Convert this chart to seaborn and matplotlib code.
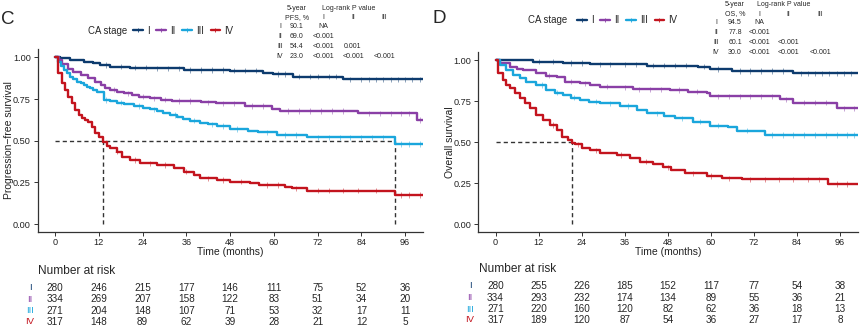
import numpy as np
import pandas as pd
import matplotlib
matplotlib.use("Agg")
import matplotlib.pyplot as plt
import seaborn as sns
from matplotlib.lines import Line2D
from matplotlib import transforms

# ---------------- data ----------------
stages = ["I", "II", "III", "IV"]
colors = ["#0D3B6E", "#8A3FA6", "#1AA6DC", "#C3141E"]
risk_times = [0, 12, 24, 36, 48, 60, 72, 84, 96]

# Panel C: progression-free survival (step curves: time, survival)
pfs_t_I = [0, 1.4, 4.1, 7.8, 10.5, 12.3, 15, 20.6, 26, 35.2, 48, 57, 59.8, 65.3, 79, 101]
pfs_s_I = [1, 0.994, 0.984, 0.974, 0.964, 0.954, 0.944, 0.938, 0.934, 0.924, 0.92, 0.908, 0.90, 0.884, 0.868, 0.868]
pfs_t_II = [0, 1, 2, 3.5, 5, 7, 9, 11, 12.5, 13.7, 15, 17, 19, 21, 23, 26, 29, 32, 40, 44, 52, 59.4, 61.7, 83, 99.2, 101]
pfs_s_II = [1, 0.985, 0.96, 0.93, 0.91, 0.894, 0.874, 0.855, 0.834, 0.815, 0.805, 0.794, 0.785, 0.774, 0.765, 0.754,
            0.745, 0.738, 0.73, 0.724, 0.708, 0.688, 0.678, 0.664, 0.624, 0.624]
pfs_t_III = [0, 0.7, 1.5, 2.3, 3.2, 4.1, 5, 5.9, 7, 7.8, 8.7, 9.6, 10.5, 11.4, 13.3, 15, 16.9, 19, 21.5, 24, 26, 28,
             29.7, 31.5, 33.4, 35, 37, 39.8, 42, 44.3, 48, 53, 55.7, 60.8, 69, 93.3, 101]
pfs_s_III = [1, 0.97, 0.95, 0.924, 0.905, 0.884, 0.868, 0.854, 0.844, 0.834, 0.824, 0.814, 0.804, 0.794, 0.744, 0.736,
             0.728, 0.718, 0.708, 0.698, 0.688, 0.676, 0.664, 0.654, 0.644, 0.632, 0.62, 0.608, 0.598, 0.588, 0.57,
             0.56, 0.55, 0.534, 0.52, 0.48, 0.48]
pfs_t_IV = [0, 0.9, 1.8, 2.7, 3.6, 4.6, 5.5, 6.4, 7.3, 8.2, 9.1, 10, 11, 12.1, 13.1, 14.2, 15.1, 16.9, 18.3, 20.6,
            23.3, 27.9, 32.5, 35.2, 38, 39.8, 44.3, 48, 53.4, 56, 63, 64.9, 69, 93.3, 101]
pfs_s_IV = [1, 0.904, 0.844, 0.804, 0.764, 0.724, 0.684, 0.654, 0.634, 0.624, 0.614, 0.584, 0.544, 0.52, 0.49, 0.47,
            0.454, 0.434, 0.404, 0.384, 0.364, 0.354, 0.334, 0.314, 0.294, 0.274, 0.264, 0.254, 0.244, 0.234,
            0.224, 0.214, 0.20, 0.174, 0.174]
pfs_cens_I = [14, 18, 22, 25, 28, 31, 34, 37, 40, 43, 46, 49, 52, 55, 61, 63, 67, 70, 72, 75, 77, 81, 84, 86, 88, 90,
              92, 94, 96, 98, 100]
pfs_cens_II = [16, 20, 24, 27, 30, 34, 37, 42, 46, 49, 54, 57, 64, 67, 70, 73, 76, 79, 86, 89, 92, 95, 97, 100]
pfs_cens_III = [14, 18, 23, 27, 33, 38, 43, 46, 50, 58, 63, 66, 72, 75, 78, 81, 84, 87, 90, 95, 97, 100]
pfs_cens_IV = [17, 22, 26, 30, 36, 42, 46, 51, 58, 61, 66, 72, 75, 79, 83, 88, 95, 97, 100]
pfs_risk_I = [280, 246, 215, 177, 146, 111, 75, 52, 36]
pfs_risk_II = [334, 269, 207, 158, 122, 83, 51, 34, 20]
pfs_risk_III = [271, 204, 148, 107, 71, 53, 32, 17, 11]
pfs_risk_IV = [317, 148, 89, 62, 39, 28, 21, 12, 5]
pfs_5yr = ["90.1", "69.0", "54.4", "23.0"]
pfs_p = [["NA", "", ""], ["<0.001", "", ""], ["<0.001", "0.001", ""], ["<0.001", "<0.001", "<0.001"]]

# Panel D: overall survival
os_t_I = [0, 10.5, 18.8, 26.3, 42.1, 56.5, 59.8, 65.8, 83, 101]
os_s_I = [1, 0.99, 0.982, 0.975, 0.965, 0.958, 0.945, 0.933, 0.919, 0.919]
os_t_II = [0, 1.2, 4, 5.9, 7.7, 11.4, 14.2, 17, 19.3, 23.5, 26.3, 29.1, 34.7, 38.4, 48.6, 53.7, 58.9, 59.8, 79.3, 83,
           95.1, 101]
os_s_II = [1, 0.98, 0.96, 0.945, 0.939, 0.919, 0.904, 0.894, 0.868, 0.858, 0.848, 0.837, 0.833, 0.821, 0.817, 0.807,
           0.797, 0.78, 0.76, 0.74, 0.705, 0.705]
os_t_III = [0, 1.2, 3, 4.9, 6.8, 8.6, 11.4, 14.2, 16.5, 18.8, 21, 23.5, 26, 29.1, 34.7, 39.3, 42.1, 47, 50, 55.1, 59.8,
            64.9, 67.2, 75.1, 101]
os_s_III = [1, 0.97, 0.939, 0.909, 0.888, 0.868, 0.848, 0.817, 0.8, 0.787, 0.77, 0.756, 0.745, 0.736, 0.72, 0.695,
            0.675, 0.659, 0.644, 0.624, 0.6, 0.59, 0.569, 0.543, 0.543]
os_t_IV = [0, 0.7, 2.1, 3, 4, 5.4, 6.8, 8.2, 9.6, 11.4, 13.3, 15.1, 17, 18.4, 20.3, 21.2, 22.2, 24, 26.3, 29.1, 33.8,
           37.5, 40.2, 43.9, 46.7, 49, 52.7, 58.8, 63, 68.6, 92.7, 101]
os_s_IV = [1, 0.919, 0.878, 0.848, 0.827, 0.797, 0.766, 0.736, 0.705, 0.665, 0.634, 0.604, 0.573, 0.532, 0.51, 0.495,
           0.486, 0.461, 0.451, 0.431, 0.421, 0.4, 0.38, 0.366, 0.346, 0.329, 0.309, 0.293, 0.279, 0.273, 0.244, 0.244]
os_cens_I = [12, 16, 21, 24, 29, 32, 36, 39, 44, 47, 50, 53, 58, 62, 68, 71, 74, 77, 80, 85, 87, 89, 91, 93, 95, 97,
             99]
os_cens_II = [15, 21, 25, 31, 36, 40, 43, 46, 51, 56, 62, 65, 68, 71, 74, 77, 81, 86, 89, 92, 97, 100]
os_cens_III = [13, 17, 22, 28, 32, 37, 45, 52, 57, 62, 70, 77, 80, 83, 86, 89, 92, 95, 98, 100]
os_cens_IV = [16, 23, 28, 35, 42, 48, 55, 60, 65, 71, 75, 79, 83, 87, 90, 95, 98]
os_risk_I = [280, 255, 226, 185, 152, 117, 77, 54, 38]
os_risk_II = [334, 293, 232, 174, 134, 89, 55, 36, 21]
os_risk_III = [271, 220, 160, 120, 82, 62, 36, 18, 13]
os_risk_IV = [317, 189, 120, 87, 54, 36, 27, 17, 8]
os_5yr = ["94.5", "77.8", "60.1", "30.0"]
os_p = [["NA", "", ""], ["<0.001", "", ""], ["<0.001", "<0.001", ""], ["<0.001", "<0.001", "<0.001"]]

# ---------------- style ----------------
sns.set_style("ticks")
plt.rcParams["font.family"] = ["Liberation Sans", "DejaVu Sans"]
W, H = 864, 331
fig = plt.figure(figsize=(W / 100, H / 100), dpi=100)
palette = dict(zip(stages, colors))


def fx(px):
    return px / W


def fy(py):
    return 1 - py / H


def step_df(ts, ss):
    rows = []
    for st, t, s in zip(stages, ts, ss):
        for a, b in zip(t, s):
            rows.append((st, a, b))
    return pd.DataFrame(rows, columns=["stage", "time", "surv"])


def cens_df(ts, ss, cs):
    rows = []
    for st, t, s, c in zip(stages, ts, ss, cs):
        t = np.asarray(t); s = np.asarray(s)
        for x in c:
            i = np.searchsorted(t, x, side="right") - 1
            rows.append((st, x, s[i]))
    return pd.DataFrame(rows, columns=["stage", "time", "surv"])


def panel(rect, ts, ss, cs, ylabel, risks, risk_ys, num_x, nar_xy, letter_xy, letter,
          leg_xy, leg_x0, tab, fiveyr, pvals, endpoint):
    ax = fig.add_axes(rect)
    df = step_df(ts, ss)
    sns.lineplot(data=df, x="time", y="surv", hue="stage", palette=palette, estimator=None,
                 sort=False, drawstyle="steps-post", lw=1.7, legend=False, ax=ax)
    cd = cens_df(ts, ss, cs)
    sns.scatterplot(data=cd, x="time", y="surv", hue="stage", palette=palette, marker="+",
                    s=14, linewidth=0.6, alpha=0.55, legend=False, ax=ax, zorder=3)
    # medians
    meds = []
    for t, s in zip(ts, ss):
        s = np.asarray(s)
        idx = np.where(s <= 0.5)[0]
        if len(idx):
            meds.append(t[idx[0]])
    if meds:
        ax.plot([0, max(meds)], [0.5, 0.5], ls=(0, (3, 2.2)), color="#333333", lw=1.0, zorder=1)
        for m in meds:
            ax.plot([m, m], [0, 0.5], ls=(0, (3, 2.2)), color="#333333", lw=1.0, zorder=1)
    ax.set_xlim(-4.8, 100.9)
    ax.set_ylim(-0.048, 1.05)
    ax.set_xticks(risk_times)
    ax.set_yticks([0, 0.25, 0.5, 0.75, 1.0])
    ax.set_yticklabels(["0.00", "0.25", "0.50", "0.75", "1.00"])
    ax.tick_params(labelsize=6.6, length=3, width=0.7, colors="#333333", labelcolor="#222222", pad=2)
    ax.tick_params(axis="x", pad=1)
    for sp in ["top", "right"]:
        ax.spines[sp].set_visible(False)
    for sp in ["left", "bottom"]:
        ax.spines[sp].set_color("#333333")
        ax.spines[sp].set_linewidth(0.9)
    ax.set_xlabel("Time (months)", fontsize=7.5, color="#222222", va="center")
    ax.set_ylabel(ylabel, fontsize=7.5, color="#222222", va="center")
    ax.xaxis.set_label_coords(0.5, (232 - 252) / (rect[3] * H))
    ax.yaxis.set_label_coords(-0.075, 0.5)

    # number at risk
    fig.text(fx(nar_xy[0]), fy(nar_xy[1]), "Number at risk", fontsize=8.6, va="center", ha="left")
    tr = transforms.blended_transform_factory(ax.transData, fig.transFigure)
    for st, col, row, yy in zip(stages, colors, risks, risk_ys):
        fig.text(fx(num_x), fy(yy), st, color=col, fontsize=6.8, ha="center", va="center")
        for t, n in zip(risk_times, row):
            ax.text(t, fy(yy), str(n), transform=tr, fontsize=7.2, ha="center", va="center",
                    clip_on=False)

    # panel letter
    fig.text(fx(letter_xy[0]), fy(letter_xy[1]), letter, fontsize=13.5, ha="left", va="center")

    # legend
    fig.text(fx(leg_xy[0]), fy(leg_xy[1]), "CA stage", fontsize=6.9, ha="left", va="center")
    handles = [Line2D([], [], color=c, lw=1.7, marker="+", markersize=3.5, markeredgewidth=0.6) for c in colors]
    fig.legend(handles, stages, loc="center left", bbox_to_anchor=(fx(leg_x0), fy(leg_xy[1])),
               ncol=4, frameon=False, fontsize=6.9, handlelength=1.0, handletextpad=0.45,
               columnspacing=0.7, borderpad=0, borderaxespad=0)

    # summary table
    rx, vx, cx, hy1, hy2, rows_y, lr_x = tab
    fs = 5.0
    fig.text(fx(vx), fy(hy1), "5-year", fontsize=fs, ha="center", va="center")
    fig.text(fx(vx), fy(hy2), endpoint, fontsize=fs, ha="center", va="center")
    fig.text(fx(lr_x), fy(hy1), "Log-rank P value", fontsize=fs, ha="left", va="center")
    for j, lab in enumerate(stages[:3]):
        fig.text(fx(cx[j]), fy(hy2), lab, fontsize=fs, ha="center", va="center")
    for i, st in enumerate(stages):
        fig.text(fx(rx), fy(rows_y[i]), st, fontsize=fs, ha="center", va="center")
        fig.text(fx(vx), fy(rows_y[i]), fiveyr[i], fontsize=fs, ha="center", va="center")
        for j in range(3):
            if pvals[i][j]:
                fig.text(fx(cx[j]), fy(rows_y[i]), pvals[i][j], fontsize=fs, ha="center", va="center")
    return ax


axC = panel([37.7 / W, 1 - 232 / H, (423 - 37.7) / W, (232 - 49) / H],
            [pfs_t_I, pfs_t_II, pfs_t_III, pfs_t_IV], [pfs_s_I, pfs_s_II, pfs_s_III, pfs_s_IV],
            [pfs_cens_I, pfs_cens_II, pfs_cens_III, pfs_cens_IV], "Progression\u2212free survival",
            [pfs_risk_I, pfs_risk_II, pfs_risk_III, pfs_risk_IV], [287.7, 299.3, 310.7, 321.7], 30,
            (37.7, 270.7), (1.5, 19.5), "C", (88, 30.7), 133,
            (280, 297, [323, 353, 384], 9, 17.5, [27, 37, 46.5, 57], 322),
            pfs_5yr, pfs_p, "PFS, %")

axD = panel([478.3 / W, 1 - 232 / H, (857.7 - 478.3) / W, (232 - 51.8) / H],
            [os_t_I, os_t_II, os_t_III, os_t_IV], [os_s_I, os_s_II, os_s_III, os_s_IV],
            [os_cens_I, os_cens_II, os_cens_III, os_cens_IV], "Overall survival",
            [os_risk_I, os_risk_II, os_risk_III, os_risk_IV], [286, 297.7, 309.3, 320], 470,
            (479, 269.3), (433, 18.5), "D", (528, 20), 577,
            (716, 735, [759, 788, 820], 5, 14, [23, 33, 42.7, 53], 757),
            os_5yr, os_p, "OS, %")

fig.savefig("out.png", dpi=100)
